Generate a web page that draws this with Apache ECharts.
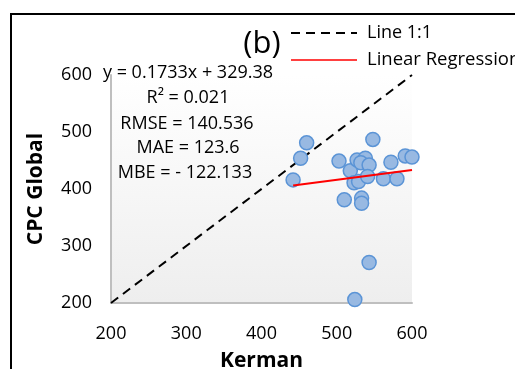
<!DOCTYPE html>
<html><head><meta charset="utf-8">
<script src="https://cdn.jsdelivr.net/npm/echarts@6/dist/echarts.min.js"></script>
<style>html,body{margin:0;padding:0;background:#fff}#c{width:515px;height:369px}</style>
</head><body><div id="c"></div>
<script>
var kerman = [460, 452, 442, 548, 503, 518, 527, 538, 532, 543, 523, 529, 541, 562, 580, 572, 591, 600, 510, 533, 533, 543, 524];
var cpcGlobal = [481, 454, 416, 487, 449, 432, 451, 454, 446, 442, 411, 413, 422, 418, 418, 447, 458, 456, 381, 384, 375, 271, 206];
var oneToOneX = [200, 600];
var oneToOneY = [200, 600];
var regX = [442, 600];
var regY = [406, 433.4];
var xTicks = [200, 300, 400, 500, 600];
var yTicks = [200, 300, 400, 500, 600];
var legendNames = ['Line 1:1', 'Linear Regression'];
var statLines = ['y = 0.1733x + 329.38', 'R\u00B2 = 0.021', 'RMSE = 140.536', 'MAE = 123.6', 'MBE = - 122.133'];

var FONT = 'Open Sans';
var chart = echarts.init(document.getElementById('c'));
var pts = kerman.map(function(v, i){ return [v, cpcGlobal[i]]; });
var oneLine = oneToOneX.map(function(v, i){ return [v, oneToOneY[i]]; });
var regLine = regX.map(function(v, i){ return [v, regY[i]]; });
var statPos = [[188, 73], [188, 98], [187, 124], [188, 148], [185, 173]];
var graphics = [
  {type:'rect', shape:{x:11, y:14, width:600, height:400}, style:{fill:'none', stroke:'#000', lineWidth:2}, z:100},
  {type:'text', style:{text:'(b)', x:262, y:44, align:'center', verticalAlign:'middle', font:'31px "' + FONT + '"', fill:'#000'}, z:50},
  {type:'line', shape:{x1:291, y1:33, x2:357, y2:33}, style:{stroke:'#000', lineWidth:2, lineDash:[9,6]}, z:50},
  {type:'text', style:{text:legendNames[0], x:367, y:33, align:'left', verticalAlign:'middle', font:'18px "' + FONT + '"', fill:'#000'}, z:50},
  {type:'line', shape:{x1:291, y1:60, x2:357, y2:60}, style:{stroke:'#ff0000', lineWidth:1.5}, z:50},
  {type:'text', style:{text:legendNames[1], x:367, y:60, align:'left', verticalAlign:'middle', font:'18.5px "' + FONT + '"', fill:'#000'}, z:50}
];
statLines.forEach(function(t, i){
  graphics.push({type:'text', style:{text:t, x:statPos[i][0], y:statPos[i][1], align:'center', verticalAlign:'middle', font:'18px "' + FONT + '"', fill:'#000'}, z:50});
});
chart.setOption({
  animation:false,
  textStyle:{fontFamily:FONT},
  grid:{left:111, right:103, top:75, bottom:66, show:true, borderWidth:0, containLabel:false, outerBoundsMode:'none',
    backgroundColor:new echarts.graphic.LinearGradient(0,0,0,1,[{offset:0,color:'#ffffff'},{offset:1,color:'#eeeeee'}])},
  xAxis:{type:'value', min:200, max:600, interval:100, name:'Kerman', nameLocation:'middle', nameGap:48,
    nameTextStyle:{fontSize:21, fontWeight:'bold', color:'#000'},
    axisLine:{show:true, lineStyle:{color:'#bfbfbf', width:2}}, axisTick:{show:false},
    axisLabel:{color:'#000', fontSize:18, margin:22, formatter:function(v){return xTicks.indexOf(v)>=0?String(v):'';}},
    splitLine:{show:false}},
  yAxis:{type:'value', min:200, max:600, interval:100, name:'CPC Global', nameLocation:'middle', nameGap:64,
    nameTextStyle:{fontSize:21, fontWeight:'bold', color:'#000'},
    axisLine:{show:true, lineStyle:{color:'#bfbfbf', width:2}}, axisTick:{show:false},
    axisLabel:{color:'#000', fontSize:18, margin:19, formatter:function(v){return yTicks.indexOf(v)>=0?String(v):'';}},
    splitLine:{show:false}},
  series:[
    {name:legendNames[0], type:'line', data:oneLine, symbol:'none', lineStyle:{color:'#000', width:2, type:[9,6]}, z:2},
    {name:legendNames[1], type:'line', data:regLine, symbol:'none', lineStyle:{color:'#ff0000', width:2}, z:4},
    {name:'pts', type:'scatter', data:pts, symbol:'circle', symbolSize:14,
      itemStyle:{color:'#98b9e2', borderColor:'#5b94d6', borderWidth:1.5, opacity:1}, z:3}
  ],
  graphic:graphics
});
</script></body></html>
